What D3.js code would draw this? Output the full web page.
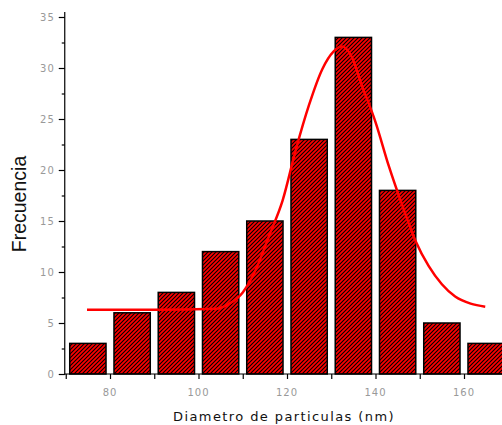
<!DOCTYPE html>
<html><head><meta charset="utf-8">
<script src="https://cdn.jsdelivr.net/npm/d3@7"></script>
<style>body{margin:0;background:#fff}svg{display:block}</style>
</head><body>
<script>
// Histogram bins (lower edge) and counts
const binStarts = [70, 80, 90, 100, 110, 120, 130, 140, 150, 160];
const binWidth = 10;
const counts = [3, 6, 8, 12, 15, 23, 33, 18, 5, 3];
// Fitted curve
const fitX = [74.8, 90, 104, 107, 110, 113, 116, 119, 122, 125, 128, 130.5, 132.4, 134.5, 137, 140, 143, 146, 149, 152, 155, 158, 161.5, 164.8];
const fitY = [6.3, 6.3, 6.4, 6.9, 8.0, 10.3, 13.6, 17.0, 22.0, 26.4, 29.9, 31.6, 32.1, 31.2, 28.2, 24.7, 20.4, 16.6, 13.1, 10.6, 8.8, 7.6, 6.9, 6.6];
const xTicks = [80, 100, 120, 140, 160];
const yTicks = [0, 5, 10, 15, 20, 25, 30, 35];

const W = 502, H = 425;
const svg = d3.select("body").append("svg").attr("width", W).attr("height", H);
const x = d3.scaleLinear().domain([70, 170]).range([65.75, 508.25]);
const y = d3.scaleLinear().domain([0, 35]).range([374, 17]);

const defs = svg.append("defs");
const pat = defs.append("pattern").attr("id", "hatch").attr("patternUnits", "userSpaceOnUse")
  .attr("width", 4).attr("height", 4);
pat.append("rect").attr("width", 4).attr("height", 4).attr("fill", "#ff0000");
pat.append("path").attr("d", "M-1,1 l2,-2 M0,4 l4,-4 M3,5 l2,-2")
  .attr("stroke", "#000").attr("stroke-width", 1.1);

// bars
const pad = 0.9;
svg.append("g").selectAll("rect").data(counts).join("rect")
  .attr("x", (d, i) => x(binStarts[i] + pad))
  .attr("width", (d, i) => x(binStarts[i] + binWidth - pad) - x(binStarts[i] + pad))
  .attr("y", d => y(d))
  .attr("height", d => y(0) - y(d))
  .attr("fill", "url(#hatch)")
  .attr("stroke", "#000").attr("stroke-width", 1.5);

// fit curve
const pts = fitX.map((v, i) => [v, fitY[i]]);
svg.append("path").datum(pts)
  .attr("d", d3.line().x(d => x(d[0])).y(d => y(d[1])).curve(d3.curveMonotoneX))
  .attr("fill", "none").attr("stroke", "#ff0000").attr("stroke-width", 2.5);

// axes
const gx = svg.append("g").attr("transform", `translate(0,${y(0)})`);
gx.call(d3.axisBottom(x).tickValues(d3.range(70, 171, 10)).tickSize(5).tickFormat(""))
  .call(g => g.select(".domain").remove());
gx.selectAll(".tick line").attr("stroke", "#000").attr("stroke-width", 1.2);
gx.append("line").attr("x1", x(70) - 1).attr("x2", W).attr("stroke", "#000").attr("stroke-width", 1.2);
gx.selectAll(".lbl").data(xTicks).join("text")
  .attr("x", d => x(d)).attr("y", 22).attr("text-anchor", "middle")
  .attr("font-family", "DejaVu Sans, sans-serif").attr("font-size", 10)
  .attr("letter-spacing", 1).attr("fill", "#999").text(d => d);

const gy = svg.append("g").attr("transform", `translate(${x(70) - 1},0)`);
gy.call(d3.axisLeft(y).tickValues(d3.range(0, 35.1, 2.5)).tickSize(3).tickFormat(""))
  .call(g => g.select(".domain").remove());
gy.selectAll(".tick line").attr("stroke", "#000").attr("stroke-width", 1.2)
  .attr("x2", d => (d % 5 === 0 ? -6 : -3));
gy.append("line").attr("y1", y(0) + 1).attr("y2", 12).attr("stroke", "#000").attr("stroke-width", 1.2);
gy.selectAll(".lbl").data(yTicks).join("text")
  .attr("x", -10).attr("y", d => y(d) + 3.5).attr("text-anchor", "end")
  .attr("font-family", "DejaVu Sans, sans-serif").attr("font-size", 10)
  .attr("letter-spacing", 1).attr("fill", "#999").text(d => d);

svg.append("text").attr("x", 284).attr("y", 421).attr("text-anchor", "middle")
  .attr("font-family", "DejaVu Sans, sans-serif").attr("font-size", 13)
  .attr("letter-spacing", 1.4).attr("fill", "#111").text("Diametro de particulas (nm)");
svg.append("text").attr("transform", "translate(26,204) rotate(-90)").attr("text-anchor", "middle")
  .attr("font-family", "Liberation Sans, Arial, sans-serif").attr("font-size", 19.5)
  .attr("fill", "#111").text("Frecuencia");
</script>
</body></html>
